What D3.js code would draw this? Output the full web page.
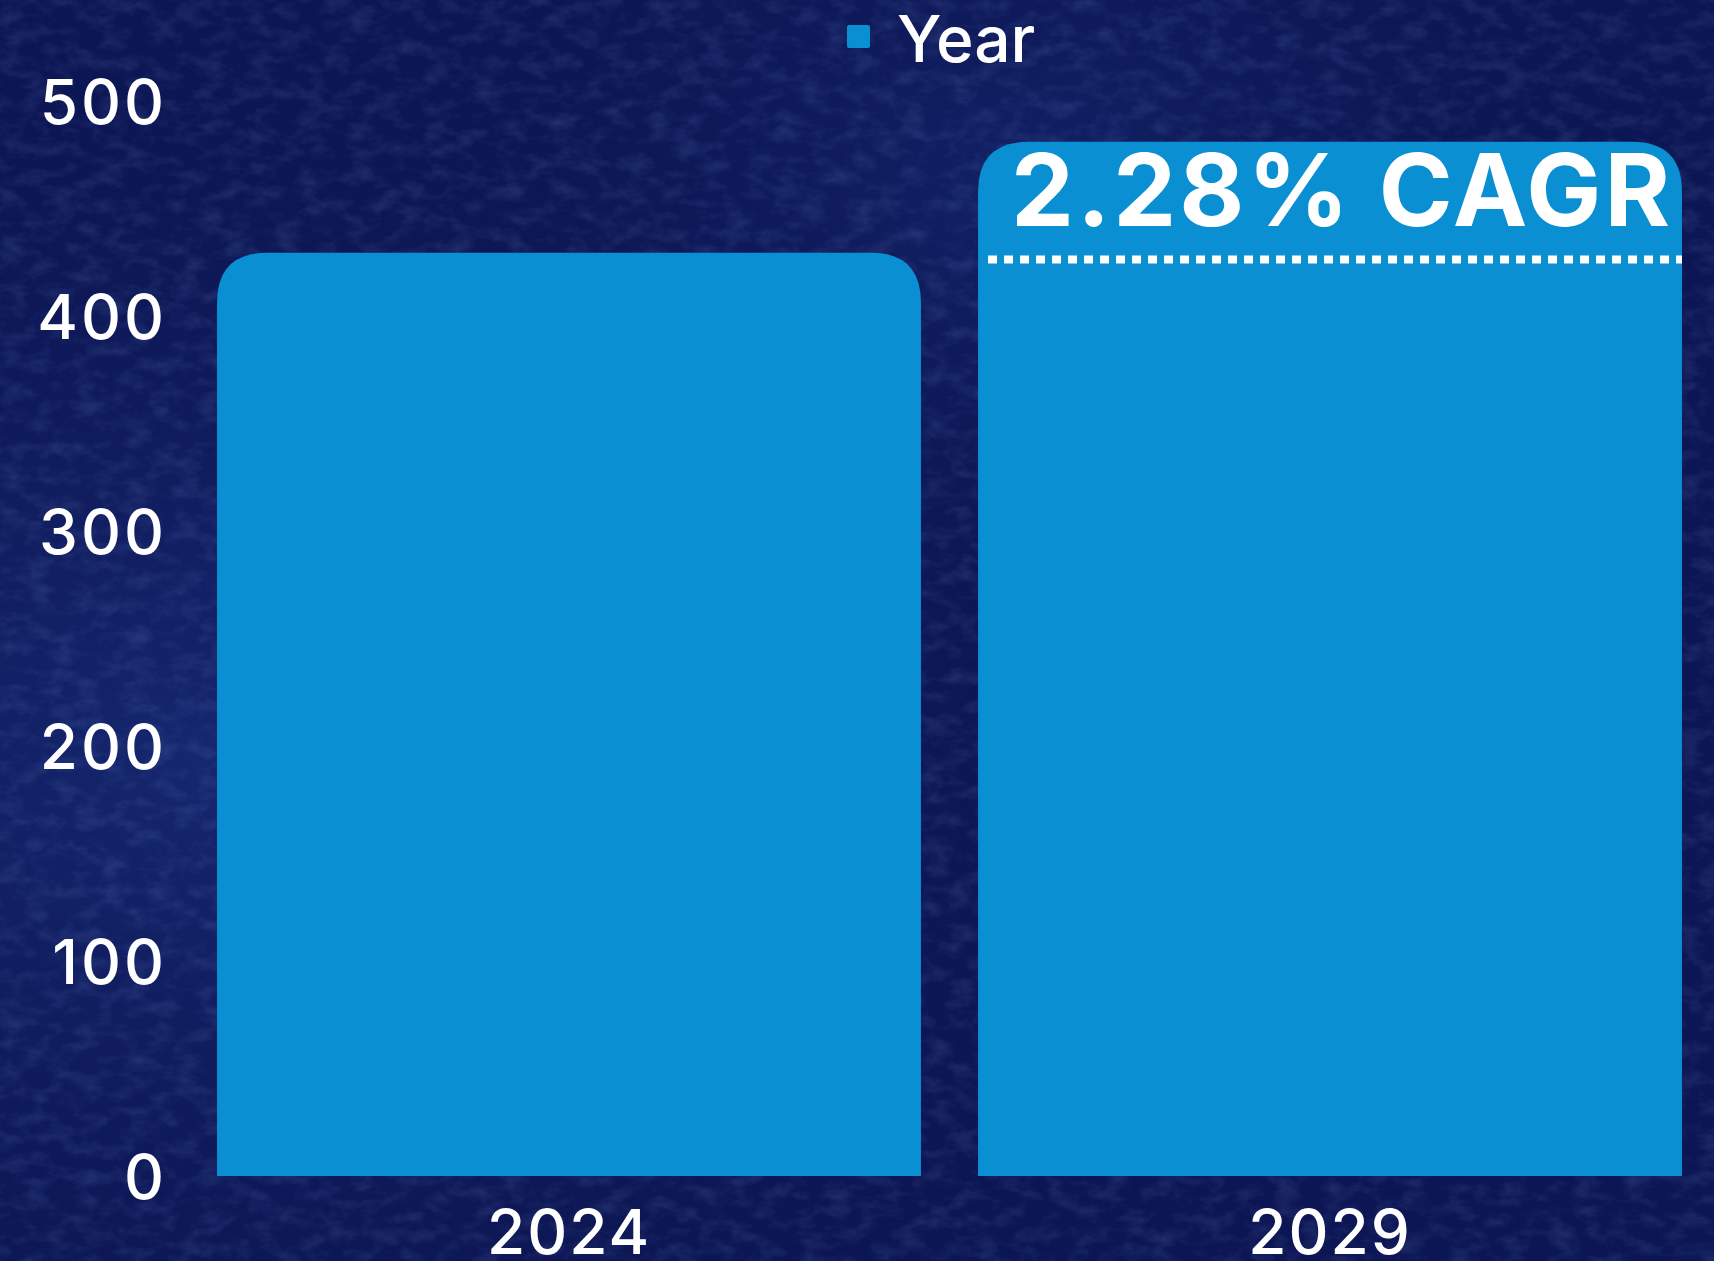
<!DOCTYPE html>
<html>
<head>
<meta charset="utf-8">
<script src="https://cdn.jsdelivr.net/npm/d3@7"></script>
<style>
  html, body { margin: 0; padding: 0; background: #0e1857; }
  svg { display: block; }
  .axis text { fill: #ffffff; font-family: Inter, Lato, sans-serif; font-weight: 500; }
</style>
</head>
<body>
<div class="plotWrapper"></div>
<script>
// chart data
const years = ["2024", "2029"];
const marketSize = [429.4, 481.0];
const yTicks = [0, 100, 200, 300, 400, 500];
const legendLabel = "Year";
const cagrLabel = "2.28% CAGR";
const baseLevel = 426.3; // dotted guide on the 2029 bar

const width = 1714;
const height = 1261;
const barColor = "#0a8fd2";

let svg = d3.select(".plotWrapper").append("svg")
    .attr("width", width)
    .attr("height", height);

// textured navy backdrop
let defs = svg.append("defs");
let noise = defs.append("filter").attr("id", "grain")
    .attr("x", 0).attr("y", 0).attr("width", "100%").attr("height", "100%");
noise.append("feTurbulence")
    .attr("type", "fractalNoise")
    .attr("baseFrequency", "0.04 0.07")
    .attr("numOctaves", 4)
    .attr("seed", 3);
noise.append("feColorMatrix")
    .attr("values", "0 0 0 0 0.15  0 0 0 0 0.26  0 0 0 0 0.58  0 0 0 1.3 -0.55");

let glow = defs.append("radialGradient").attr("id", "glow")
    .attr("cx", "0.12").attr("cy", "0.6").attr("r", "0.55");
glow.append("stop").attr("offset", "0%").attr("stop-color", "#1b3383").attr("stop-opacity", 0.6);
glow.append("stop").attr("offset", "100%").attr("stop-color", "#0e1857").attr("stop-opacity", 0);

let glow2 = defs.append("radialGradient").attr("id", "glow2")
    .attr("cx", "0.6").attr("cy", "0.15").attr("r", "0.35");
glow2.append("stop").attr("offset", "0%").attr("stop-color", "#172c78").attr("stop-opacity", 0.5);
glow2.append("stop").attr("offset", "100%").attr("stop-color", "#0e1857").attr("stop-opacity", 0);

svg.append("rect").attr("width", width).attr("height", height).attr("fill", "#0d1654");
svg.append("rect").attr("width", width).attr("height", height).attr("fill", "url(#glow)");
svg.append("rect").attr("width", width).attr("height", height).attr("fill", "url(#glow2)");
svg.append("rect").attr("width", width).attr("height", height).attr("filter", "url(#grain)").attr("opacity", 0.3);

// scales
let xScale = d3.scaleBand().domain(years).range([188.5, 1710.5])
    .paddingInner(0.075).paddingOuter(0.0375);
let yScale = d3.scaleLinear().domain([0, 500]).range([1176, 101]);

// y axis
let yAxis = d3.axisLeft(yScale).tickValues(yTicks).tickSize(0).tickPadding(0);
let yAxisElement = svg.append("g")
    .attr("class", "y axis")
    .attr("transform", "translate(167,0)")
    .call(yAxis);
yAxisElement.select(".domain").remove();
yAxisElement.selectAll("text")
    .attr("font-size", 62)
    .attr("letter-spacing", 3)
    .attr("dy", "0.36em");

// x axis
let xAxis = d3.axisBottom(xScale).tickSize(0).tickPadding(0);
let xAxisElement = svg.append("g")
    .attr("class", "x axis")
    .attr("transform", "translate(0,1176)")
    .call(xAxis);
xAxisElement.select(".domain").remove();
xAxisElement.selectAll("text")
    .attr("font-size", 62)
    .attr("letter-spacing", 2)
    .attr("dy", 0)
    .attr("y", 78);

// bars with rounded tops
const radius = 50;
function barPath(d, i) {
    let x0 = xScale(years[i]);
    let x1 = x0 + xScale.bandwidth();
    let y0 = yScale(0);
    let y1 = yScale(d);
    return `M${x0},${y0} V${y1 + radius} Q${x0},${y1} ${x0 + radius},${y1} H${x1 - radius} Q${x1},${y1} ${x1},${y1 + radius} V${y0} Z`;
}
svg.selectAll(".bar")
    .data(marketSize)
    .enter()
    .append("path")
    .attr("class", "bar")
    .attr("fill", barColor)
    .attr("d", barPath);

// dotted guide and CAGR label on the 2029 bar
let lastX = xScale(years[1]);
svg.append("line")
    .attr("x1", lastX + 10)
    .attr("x2", lastX + xScale.bandwidth())
    .attr("y1", yScale(baseLevel))
    .attr("y2", yScale(baseLevel))
    .attr("stroke", "#ffffff")
    .attr("stroke-width", 8)
    .attr("stroke-dasharray", "9 7");

svg.append("text")
    .attr("x", lastX + xScale.bandwidth() / 2 + 12)
    .attr("y", yScale(marketSize[1]) + 84)
    .attr("text-anchor", "middle")
    .attr("fill", "#ffffff")
    .attr("font-family", "Inter, Lato, sans-serif")
    .attr("font-weight", 700)
    .attr("font-size", 100)
    .attr("letter-spacing", 3)
    .text(cagrLabel);

// legend
let legend = svg.append("g").attr("class", "legend");
legend.append("rect")
    .attr("x", 847).attr("y", 25)
    .attr("width", 23).attr("height", 23)
    .attr("rx", 2)
    .attr("fill", barColor);
legend.append("text")
    .attr("x", 897).attr("y", 62)
    .attr("fill", "#ffffff")
    .attr("font-family", "Inter, Lato, sans-serif")
    .attr("font-weight", 500)
    .attr("font-size", 64)
    .text(legendLabel);
</script>
</body>
</html>
